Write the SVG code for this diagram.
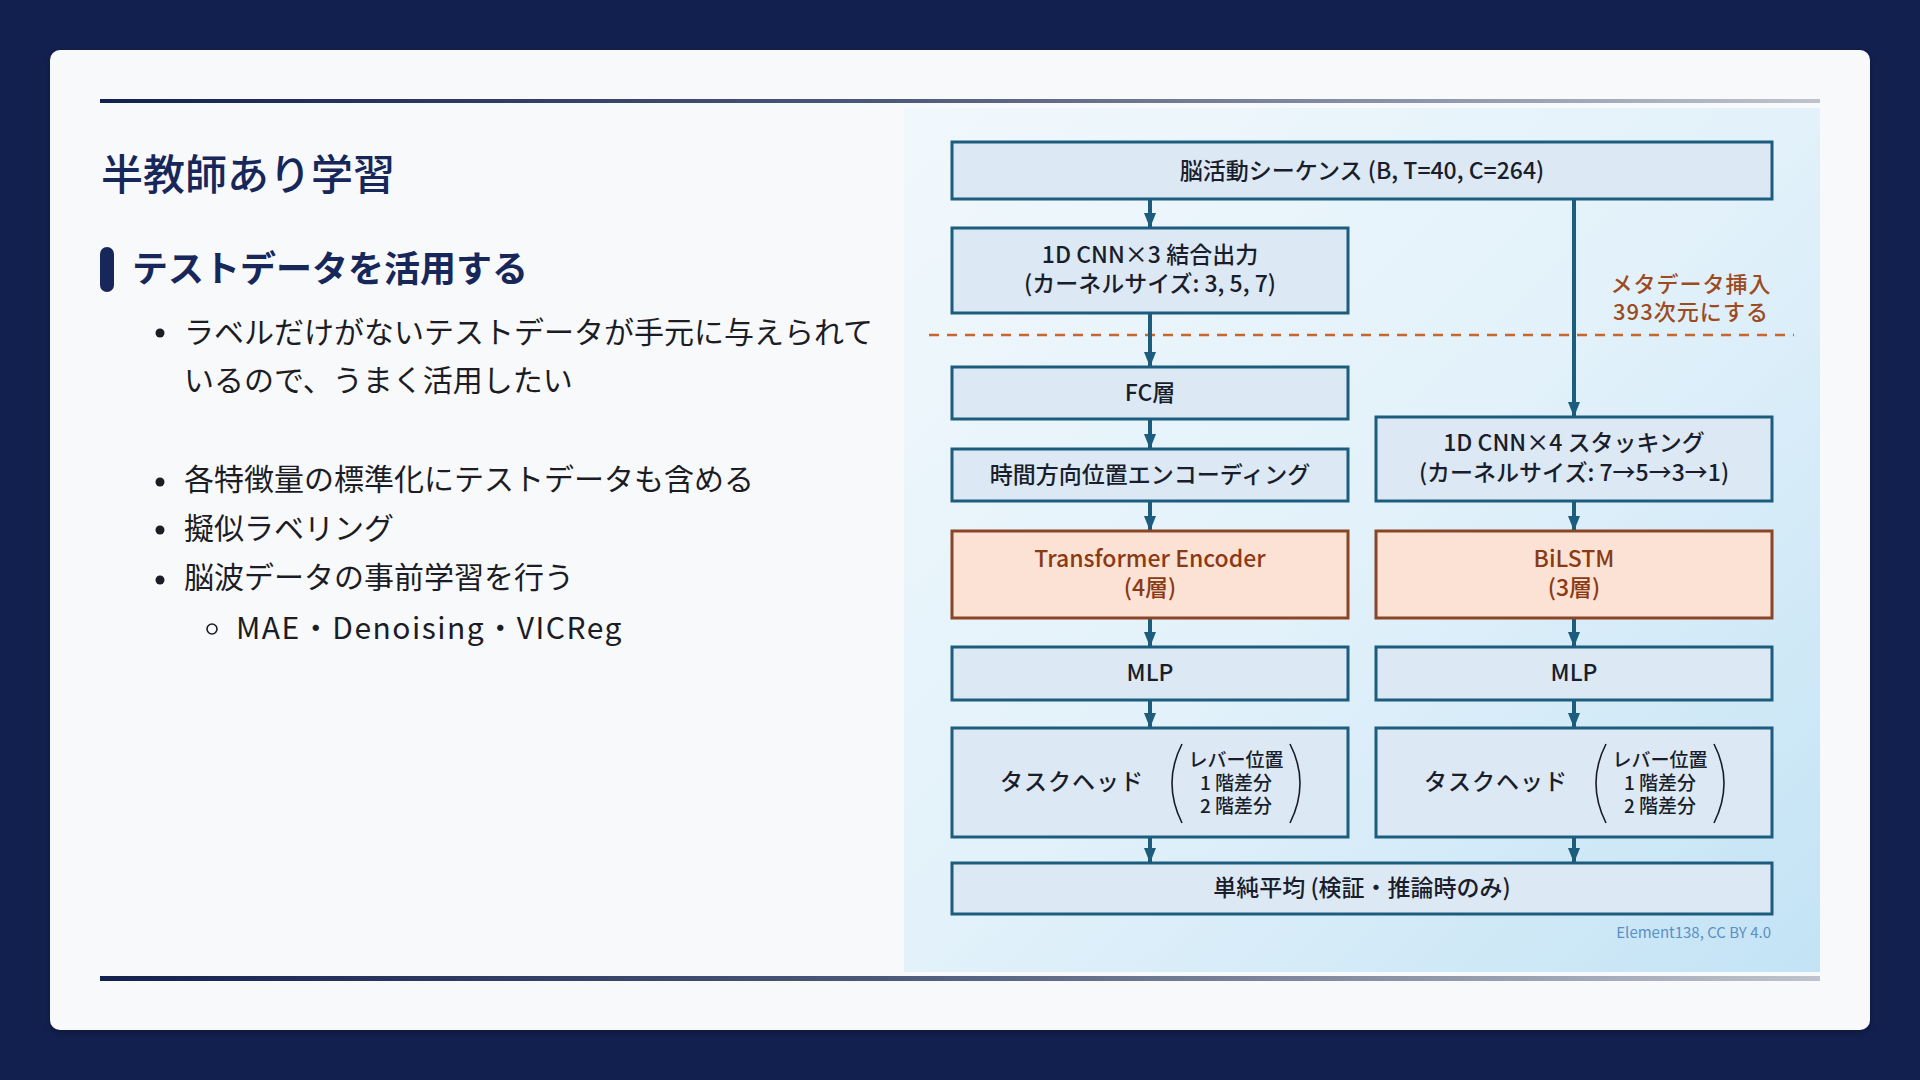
<svg xmlns="http://www.w3.org/2000/svg" width="1920" height="1080" viewBox="0 0 1920 1080">
<defs>
<linearGradient id="rule" x1="0" y1="0" x2="1" y2="0">
<stop offset="0" stop-color="#13214f"/>
<stop offset="0.45" stop-color="#4a5878"/>
<stop offset="1" stop-color="#bfc3cd"/>
</linearGradient>
<linearGradient id="panel" x1="0" y1="0" x2="1" y2="1">
<stop offset="0" stop-color="#f1f8fc"/>
<stop offset="0.5" stop-color="#e2f1fa"/>
<stop offset="1" stop-color="#c3e3f5"/>
</linearGradient>
<filter id="shadow" x="-5%" y="-5%" width="110%" height="110%">
<feDropShadow dx="0" dy="3" stdDeviation="3" flood-color="#000" flood-opacity="0.25"/>
</filter>
<marker id="arr" viewBox="0 0 15 12" refX="15" refY="6" markerWidth="15" markerHeight="12" markerUnits="userSpaceOnUse" orient="auto">
<path d="M0,0 L15,6 L0,12 Z" fill="#1c5c7d"/>
</marker>
<style>
.title{font-family:"Noto Sans CJK JP","Noto Sans",sans-serif;font-size:42px;font-weight:500;fill:#17275a}
.sub{font-family:"Noto Sans CJK JP","Noto Sans",sans-serif;font-size:36px;font-weight:700;fill:#17275a}
.body{font-family:"Noto Sans CJK JP","Noto Sans",sans-serif;font-size:30px;font-weight:400;fill:#1c1c24}
.node{fill:#dce9f5;stroke:#1c5c7d;stroke-width:3}
.hot{fill:#fce2d4;stroke:#8a4526;stroke-width:3}
.t{font-family:"Noto Sans CJK JP","Noto Sans",sans-serif;font-size:23px;font-weight:500;fill:#1a1d2b;text-anchor:middle}
.th{font-family:"Noto Sans CJK JP","Noto Sans",sans-serif;font-size:23px;font-weight:500;fill:#8b3a14;text-anchor:middle}
.ts{font-family:"Noto Sans CJK JP","Noto Sans",sans-serif;font-size:19px;font-weight:500;fill:#1a1d2b;text-anchor:middle}
.meta{font-family:"Noto Sans CJK JP","Noto Sans",sans-serif;font-size:22px;font-weight:500;fill:#9c4a1e;text-anchor:middle;letter-spacing:1px}
.conn{stroke:#1c5c7d;stroke-width:4;fill:none}
.paren{stroke:#1a1d2b;stroke-width:1.6;fill:none}
</style>
</defs>
<rect width="1920" height="1080" fill="#12204f"/>
<rect x="50" y="50" width="1820" height="980" rx="10" fill="#f8f9fb" filter="url(#shadow)"/>
<rect x="100" y="99" width="1720" height="4" fill="url(#rule)"/>
<rect x="100" y="976" width="1720" height="5" fill="url(#rule)"/>

<text class="title" x="101" y="190">半教師あり学習</text>
<rect x="100" y="247" width="14" height="45" rx="7" fill="#17275a"/>
<text class="sub" x="132" y="282">テストデータを活用する</text>
<circle cx="160" cy="333" r="4.5" fill="#1c1c24"/>
<text class="body" x="184" y="343">ラベルだけがないテストデータが手元に与えられて<tspan x="184" dy="48">いるので、うまく活用したい</tspan></text>
<circle cx="160" cy="482" r="4.5" fill="#1c1c24"/>
<text class="body" x="184" y="490">各特徴量の標準化にテストデータも含める</text>
<circle cx="160" cy="530" r="4.5" fill="#1c1c24"/>
<text class="body" x="184" y="539">擬似ラベリング</text>
<circle cx="160" cy="580" r="4.5" fill="#1c1c24"/>
<text class="body" x="184" y="588">脳波データの事前学習を行う</text>
<circle cx="212" cy="629" r="5" fill="none" stroke="#1c1c24" stroke-width="1.6"/>
<text class="body" x="236" y="639" letter-spacing="1.5">MAE・Denoising・VICReg</text>

<rect x="904" y="108" width="916" height="864" fill="url(#panel)"/>

<line x1="929" y1="335" x2="1794" y2="335" stroke="#c8662e" stroke-width="2.5" stroke-dasharray="10 8"/>
<text class="meta" x="1691" y="292">メタデータ挿入<tspan x="1691" dy="28">393次元にする</tspan></text>

<g id="connectors">
<line class="conn" x1="1150" y1="199" x2="1150" y2="228" marker-end="url(#arr)"/>
<line class="conn" x1="1150" y1="313" x2="1150" y2="367" marker-end="url(#arr)"/>
<line class="conn" x1="1150" y1="419" x2="1150" y2="449" marker-end="url(#arr)"/>
<line class="conn" x1="1150" y1="501" x2="1150" y2="531" marker-end="url(#arr)"/>
<line class="conn" x1="1574" y1="199" x2="1574" y2="417" marker-end="url(#arr)"/>
<line class="conn" x1="1574" y1="501" x2="1574" y2="531" marker-end="url(#arr)"/>
<line class="conn" x1="1150" y1="618" x2="1150" y2="647" marker-end="url(#arr)"/>
<line class="conn" x1="1574" y1="618" x2="1574" y2="647" marker-end="url(#arr)"/>
<line class="conn" x1="1150" y1="700" x2="1150" y2="728" marker-end="url(#arr)"/>
<line class="conn" x1="1574" y1="700" x2="1574" y2="728" marker-end="url(#arr)"/>
<line class="conn" x1="1150" y1="837" x2="1150" y2="863" marker-end="url(#arr)"/>
<line class="conn" x1="1574" y1="837" x2="1574" y2="863" marker-end="url(#arr)"/>
</g>

<g id="input">
<rect class="node" x="952" y="142" width="820" height="57"/>
<text class="t" x="1362" y="179">脳活動シーケンス (B, T=40, C=264)</text>
</g>
<g id="cnn3">
<rect class="node" x="952" y="228" width="396" height="85"/>
<text class="t" x="1150" y="263">1D CNN×3 結合出力<tspan x="1150" dy="29">(カーネルサイズ: 3, 5, 7)</tspan></text>
</g>
<g id="fc">
<rect class="node" x="952" y="367" width="396" height="52"/>
<text class="t" x="1150" y="401">FC層</text>
</g>
<g id="posenc">
<rect class="node" x="952" y="449" width="396" height="52"/>
<text class="t" x="1150" y="483">時間方向位置エンコーディング</text>
</g>
<g id="cnn4">
<rect class="node" x="1376" y="417" width="396" height="84"/>
<text class="t" x="1574" y="451">1D CNN×4 スタッキング<tspan x="1574" dy="30">(カーネルサイズ: 7→5→3→1)</tspan></text>
</g>
<g id="transformer">
<rect class="hot" x="952" y="531" width="396" height="87"/>
<text class="th" x="1150" y="567">Transformer Encoder<tspan x="1150" dy="29">(4層)</tspan></text>
</g>
<g id="bilstm">
<rect class="hot" x="1376" y="531" width="396" height="87"/>
<text class="th" x="1574" y="567">BiLSTM<tspan x="1574" dy="29">(3層)</tspan></text>
</g>
<g id="mlp-left">
<rect class="node" x="952" y="647" width="396" height="53"/>
<text class="t" x="1150" y="681">MLP</text>
</g>
<g id="mlp-right">
<rect class="node" x="1376" y="647" width="396" height="53"/>
<text class="t" x="1574" y="681">MLP</text>
</g>
<g id="head-left">
<rect class="node" x="952" y="728" width="396" height="109"/>
<text class="t" x="1072" y="790" letter-spacing="1">タスクヘッド</text>
<path class="paren" d="M1182,744 Q1162,783 1182,823"/>
<path class="paren" d="M1290,744 Q1310,783 1290,823"/>
<text class="ts" x="1236" y="767">レバー位置<tspan x="1236" dy="23">1 階差分</tspan><tspan x="1236" dy="23">2 階差分</tspan></text>
</g>
<g id="head-right">
<rect class="node" x="1376" y="728" width="396" height="109"/>
<text class="t" x="1496" y="790" letter-spacing="1">タスクヘッド</text>
<path class="paren" d="M1606,744 Q1586,783 1606,823"/>
<path class="paren" d="M1714,744 Q1734,783 1714,823"/>
<text class="ts" x="1660" y="767">レバー位置<tspan x="1660" dy="23">1 階差分</tspan><tspan x="1660" dy="23">2 階差分</tspan></text>
</g>
<g id="average">
<rect class="node" x="952" y="863" width="820" height="51"/>
<text class="t" x="1362" y="896">単純平均 (検証・推論時のみ)</text>
</g>
<text x="1771" y="938" font-family="'Noto Sans CJK JP','Noto Sans',sans-serif" font-size="15" fill="#5b8fc6" text-anchor="end">Element138, CC BY 4.0</text>
</svg>
